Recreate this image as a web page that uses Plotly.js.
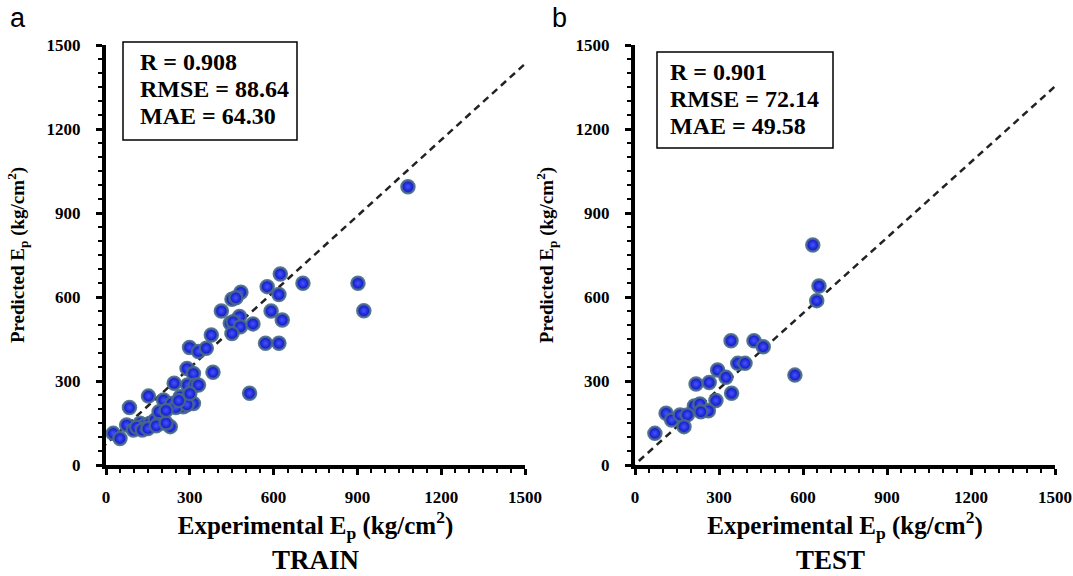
<!DOCTYPE html>
<html>
<head>
<meta charset="utf-8">
<script src="https://cdn.plot.ly/plotly-3.0.1.min.js"></script>
<style>html,body{margin:0;padding:0;background:#fff;}#chart{width:1073px;height:576px;}</style>
</head>
<body>
<div id="chart"></div>
<script>
// ---- data (kg/cm2) ----
const trainExp  = [624,705,577,619,483,451,465,413,478,445,455,481,526,451,591,631,571,619,377,299,331,359,290,313,383,244,292,320,331,514,152,206,236,266,295,277,313,250,290,84,74,98,122,140,158,176,194,200,230,110,130,150,180,215,26,50,1081,902,923,190,215,260,300];
const trainPred = [682,649,637,609,617,592,597,550,530,506,512,494,504,470,550,518,435,435,464,420,405,417,345,327,331,292,286,286,286,256,246,232,220,244,238,208,220,205,215,205,143,125,149,143,149,161,149,172,137,135,125,130,140,150,113,95,994,649,551,190,195,230,255];
const testExp   = [635,657,649,343,425,458,367,393,571,295,325,218,265,345,289,212,232,262,235,111,131,161,187,175,71];
const testPred  = [786,639,587,444,444,422,363,363,321,339,313,289,295,256,230,211,218,194,190,185,161,179,179,137,113];
// dashed fit lines
const fitX      = [-50, 1600];
const fitTrainY = [30, 1523];
const fitTestY  = [-43, 1442];
const tickVals  = [0, 300, 600, 900, 1200, 1500];
const tickText  = ['0', '300', '600', '900', '1200', '1500'];
const statsTrain = ['R = 0.908', 'RMSE = 88.64', 'MAE = 64.30'];
const statsTest  = ['R = 0.901', 'RMSE = 72.14', 'MAE = 49.58'];

const serif = 'Liberation Serif';
const marker = {
  size: 13,
  color: '#0c0cc0',
  gradient: {type: 'radial', color: '#4455ff'},
  line: {color: 'rgba(70,105,140,0.9)', width: 2.5}
};

const traces = [
  {x: fitX, y: fitTrainY, xaxis: 'x', yaxis: 'y', mode: 'lines',
   line: {color: '#222', width: 2.5, dash: '7px,5px'}, hoverinfo: 'skip'},
  {x: trainExp, y: trainPred, xaxis: 'x', yaxis: 'y', mode: 'markers', marker: marker, name: 'TRAIN'},
  {x: fitX, y: fitTestY, xaxis: 'x2', yaxis: 'y2', mode: 'lines',
   line: {color: '#222', width: 2.5, dash: '7px,5px'}, hoverinfo: 'skip'},
  {x: testExp, y: testPred, xaxis: 'x2', yaxis: 'y2', mode: 'markers', marker: marker, name: 'TEST'}
];

function axis(extra) {
  return Object.assign({
    range: [0, 1500], tickmode: 'array', tickvals: tickVals, ticktext: tickText,
    showline: true, linewidth: 4, linecolor: '#000', mirror: false,
    ticks: 'outside', ticklen: 6, tickwidth: 3, tickcolor: '#000',
    minor: {dtick: 50, tick0: 0, ticks: 'outside', ticklen: 4, tickwidth: 2, tickcolor: '#000', showgrid: false},
    showgrid: false, zeroline: false, fixedrange: true,
    tickfont: {family: serif, size: 17, weight: 'bold', color: '#000'}
  }, extra);
}
const xTitle = {text: 'Experimental E<sub>p</sub> (kg/cm<sup>2</sup>)', font: {family: serif, size: 25, weight: 'bold', color: '#000'}, standoff: 6};
const yTitle = {text: 'Predicted E<sub>p</sub> (kg/cm<sup>2</sup>)', font: {family: serif, size: 19, weight: 'bold', color: '#000'}, standoff: 18};

const W = 1073, H = 576;
const px = v => v / W, py = v => 1 - v / H;

const annotations = [];
function stats(lines, x0, y0) {
  lines.forEach((t, i) => annotations.push({
    xref: 'paper', yref: 'paper', x: px(x0), y: py(y0 + i * 27), xanchor: 'left', yanchor: 'middle',
    text: t, showarrow: false, font: {family: serif, size: 24, weight: 'bold', color: '#000'}
  }));
}
stats(statsTrain, 138, 62);
stats(statsTest, 668, 72);
function label(t, x, y, fam, size) {
  annotations.push({xref: 'paper', yref: 'paper', x: px(x), y: py(y), xanchor: 'center', yanchor: 'middle',
    text: t, showarrow: false, font: {family: fam, size: size, weight: fam === serif ? 'bold' : 'normal', color: '#000'}});
}
label('TRAIN', 316, 560, serif, 27);
label('TEST', 830, 560, serif, 27);
label('a', 18, 18, 'Liberation Sans', 27);
label('b', 560, 18, 'Liberation Sans', 27);

const shapes = [
  {type: 'rect', xref: 'paper', yref: 'paper', x0: px(123), x1: px(297), y0: py(42), y1: py(140), line: {color: '#000', width: 1.5}},
  {type: 'rect', xref: 'paper', yref: 'paper', x0: px(657), x1: px(833), y0: py(52), y1: py(148), line: {color: '#000', width: 1.5}}
];

const layout = {
  width: W, height: H, margin: {l: 0, r: 0, t: 0, b: 0},
  paper_bgcolor: '#fff', plot_bgcolor: '#fff', showlegend: false,
  font: {family: serif},
  xaxis: axis({domain: [px(106), px(525)], anchor: 'y', title: xTitle, ticklabelstandoff: 8}),
  yaxis: axis({domain: [py(465), py(45)], anchor: 'x', title: yTitle, ticklabelstandoff: 12}),
  xaxis2: axis({domain: [px(635), px(1055)], anchor: 'y2', title: xTitle, ticklabelstandoff: 8}),
  yaxis2: axis({domain: [py(465), py(45)], anchor: 'x2', title: yTitle, ticklabelstandoff: 12}),
  annotations: annotations, shapes: shapes
};

Plotly.newPlot('chart', traces, layout, {displayModeBar: false, staticPlot: true});
</script>
</body>
</html>
